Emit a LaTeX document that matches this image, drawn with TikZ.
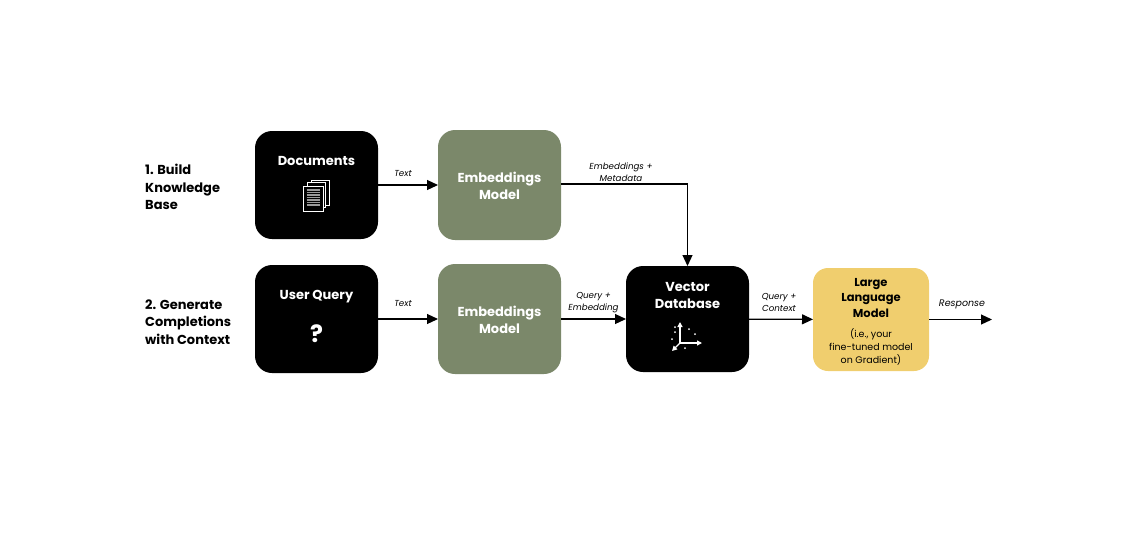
\documentclass[tikz,border=0pt]{standalone}
\usepackage{fontspec}
\setmainfont{Poppins}
\usetikzlibrary{arrows.meta}
\definecolor{sage}{HTML}{7B886A}
\definecolor{gold}{HTML}{F0CE6E}
\tikzset{
  x=1pt,y=-1pt,
  box/.style={minimum width=#1,rounded corners=17pt,inner sep=0pt,outer sep=0pt},
  black box/.style={box=123pt,fill=black,minimum height=108pt},
  sage box/.style={box=123pt,fill=sage,minimum height=110pt},
  head/.style={text=white,font=\fontsize{13}{17}\selectfont\bfseries,align=center,inner sep=0pt},
  side/.style={font=\fontsize{13}{17.5}\selectfont\bfseries,align=left,anchor=west,inner sep=0pt},
  lab/.style={font=\fontsize{8.7}{12}\selectfont\itshape,align=center,inner sep=0pt},
  conn/.style={line width=1.2pt,-{Triangle[length=11pt,width=10pt]}},
  ico/.style={draw=white,fill=black,line width=.9pt},
  axis/.style={draw=white,line width=1.3pt,-{Triangle[length=5pt,width=5pt]}}
}
\begin{document}
\begin{tikzpicture}
\useasboundingbox (0,0) rectangle (1133,542);
\node[black box] (doc) at (316.5,185) {};
\node[sage box] (emb1) at (499.5,185) {};
\node[black box] (query) at (316.5,319) {};
\node[sage box] (emb2) at (499.5,319) {};
\node[box=123pt,fill=black,minimum height=106pt] (vec) at (687.5,319) {};
\node[box=116pt,fill=gold,minimum height=103pt,rounded corners=15pt] (llm) at (871,319.5) {};
\coordinate (end) at (992,319.5);

\node[head] (doct) at (316.5,161) {Documents};
\node[head] (qt) at (316.5,296.5) {User Query};
\node[head] (e1t) at (499.5,185.5) {Embeddings\\Model};
\node[head] (e2t) at (499.5,319.5) {Embeddings\\Model};
\node[head] (vt) at (687.5,295) {Vector\\Database};
\node[head,text=black,font=\fontsize{11.5}{15.5}\selectfont\bfseries] (lt) at (871,298) {Large\\Language\\Model};
\node[inner sep=0pt,align=center,font=\fontsize{9.5}{13}\selectfont] (ls) at (871,347) {(i.e., your\\fine-tuned model\\on Gradient)};
\node[text=white,font=\fontsize{24}{24}\selectfont\bfseries,inner sep=0pt] (qm) at (316.5,334) {?};

\node[side] (s1) at (145,187) {1. Build\\Knowledge\\Base};
\node[side] (s2) at (145,322) {2. Generate\\Completions\\with Context};

\draw[conn] (doc) -- (emb1);
\draw[conn] (query) -- (emb2);
\draw[conn] (emb2) -- (vec);
\draw[conn] (vec) -- (llm);
\draw[conn] (llm.east |- end) -- (end);
\draw[conn] ([yshift=1pt]emb1.east) -| (vec);

\node[lab] (l1) at (403,173) {Text};
\node[lab] (l2) at (403,303) {Text};
\node[lab] (l3) at (621,172) {Embeddings +\\Metadata};
\node[lab] (l4) at (593.5,302.5) {Query +\\Embedding};
\node[lab] (l5) at (779,302) {Query +\\Context};
\node[lab,font=\fontsize{9.5}{12}\selectfont\itshape] (l6) at (962,304) {Response};

% document stack icon
\draw[ico] (311,180) rectangle (329,205);
\draw[ico] (307.5,182.5) rectangle (325.5,207.5);
\draw[ico] (303.5,186) rectangle (323,211);
\foreach \y in {190,192.5,...,206} \draw[white!60!black,line width=1.4pt] (306.5,\y) -- (320,\y);

% axes icon
\coordinate (o) at (680,343);
\draw[axis] (o) -- (680,322);
\draw[axis] (o) -- (702,343);
\draw[axis] (o) -- (672,351);
\foreach \p in {(675,332),(672,339),(689,329),(695,334),(685,348),(675,327)} \fill[white] \p circle (1pt);
\end{tikzpicture}
\end{document}
